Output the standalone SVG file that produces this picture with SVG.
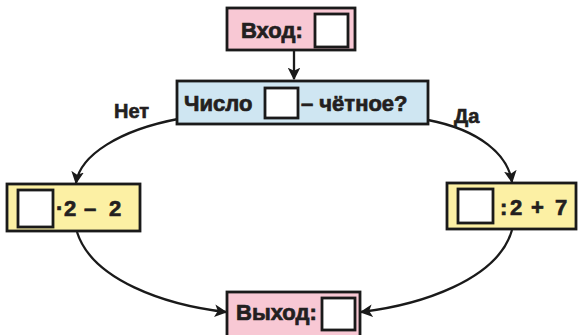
<svg xmlns="http://www.w3.org/2000/svg" width="578" height="335" viewBox="0 0 578 335">
<defs>
<marker id="ah" viewBox="0 0 10 10" refX="9" refY="5" markerWidth="5.5" markerHeight="5.5" orient="auto" markerUnits="strokeWidth">
<path d="M0,0 L10,5 L0,10 L2.5,5 Z" fill="#1a1a1a"/>
</marker>
<style>
.box{stroke:#1a1a1a;stroke-width:2.8}
.sq{fill:#fff;stroke:#1a1a1a;stroke-width:2.8}
.t{font-family:"Liberation Sans",Arial,sans-serif;font-weight:bold;font-size:22px;fill:#231f20;stroke:#231f20;stroke-width:0.7}
.lbl{font-family:"Liberation Sans",Arial,sans-serif;font-weight:bold;font-size:20px;fill:#231f20;stroke:#231f20;stroke-width:0.6}
.c{fill:none;stroke:#1a1a1a;stroke-width:2.3}
</style>
</defs>
<rect width="578" height="335" fill="#fff"/>
<g id="connectors">
<path class="c" d="M294,51 L294,79" marker-end="url(#ah)"/>
<path class="c" d="M178,119 C120,130 80,155 76,183" marker-end="url(#ah)"/>
<path class="c" d="M428,120 C480,130 508,155 512,182" marker-end="url(#ah)"/>
<path class="c" d="M77,232 C92,280 165,305 226,312" marker-end="url(#ah)"/>
<path class="c" d="M512,230 C498,280 420,305 361,312" marker-end="url(#ah)"/>
<text class="lbl" x="114" y="118">Нет</text>
<text class="lbl" x="454" y="123">Да</text>
</g>
<g id="input">
<rect class="box" x="227" y="8" width="128" height="42" fill="#f8c8d4"/>
<text class="t" x="241" y="38">Вход:</text>
<rect class="sq" x="315" y="14" width="33" height="33"/>
</g>
<g id="question">
<rect class="box" x="177" y="81" width="251" height="43" fill="#cfe6f2"/>
<text class="t" x="184" y="111">Число</text>
<rect class="sq" x="265" y="88" width="33" height="30"/>
<text class="t" x="301" y="111">– чётное?</text>
</g>
<g id="left">
<rect class="box" x="7" y="184" width="133" height="47" fill="#fcf0a4"/>
<rect class="sq" x="18" y="190" width="35" height="37"/>
<text class="t" y="216"><tspan x="56">·</tspan><tspan x="64">2</tspan><tspan x="84">–</tspan><tspan x="109">2</tspan></text>
</g>
<g id="right">
<rect class="box" x="447" y="183" width="129" height="46" fill="#fcf0a4"/>
<rect class="sq" x="458" y="189" width="35" height="34"/>
<text class="t" y="215"><tspan x="500">:</tspan><tspan x="510">2</tspan><tspan x="531">+</tspan><tspan x="555">7</tspan></text>
</g>
<g id="output">
<rect class="box" x="227" y="292" width="133" height="46" fill="#f8c8d4"/>
<text class="t" x="236" y="320">Выход:</text>
<rect class="sq" x="322" y="298" width="33" height="32"/>
</g>
</svg>
